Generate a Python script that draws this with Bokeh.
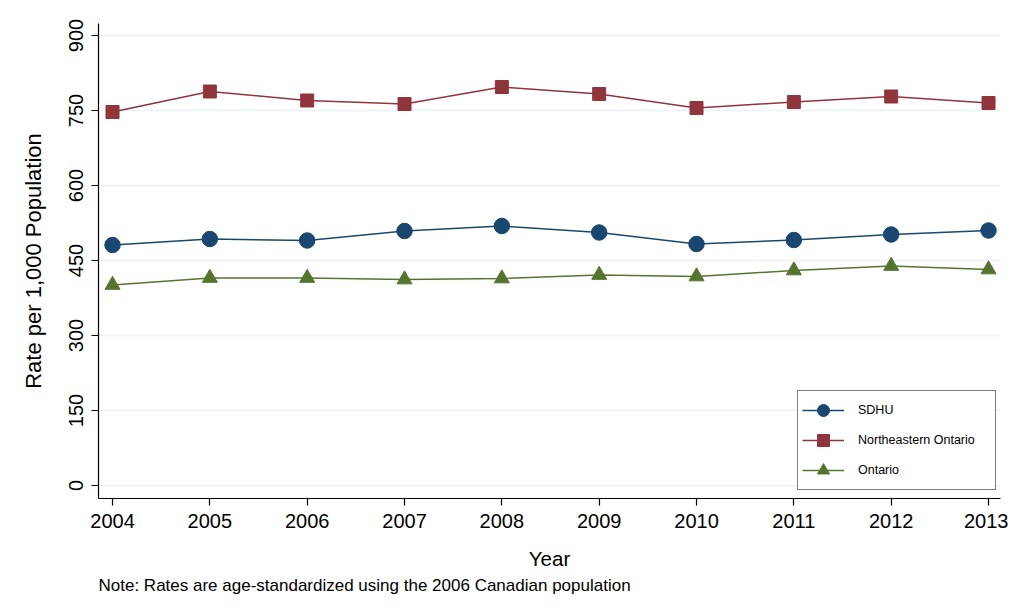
from bokeh.plotting import figure
from bokeh.models import FixedTicker, Range1d, Legend, LegendItem, Title
from bokeh.embed import file_html
from bokeh.resources import INLINE

years = [2004, 2005, 2006, 2007, 2008, 2009, 2010, 2011, 2012, 2013]
sdhu = [481, 493, 490, 509, 519, 506, 483, 491, 502, 510]
ne_ontario = [747, 788, 770, 763, 797, 783, 755, 767, 778, 765]
ontario = [401, 415, 415, 412, 414, 421, 418, 430, 439, 432]
y_ticks = [0, 150, 300, 450, 600, 750, 900]
series_names = ["SDHU", "Northeastern Ontario", "Ontario"]
note_text = "Note: Rates are age-standardized using the 2006 Canadian population"

FONT = "Liberation Sans"
C_SDHU = "#1a476f"
C_NEO = "#90353b"
C_ONT = "#55752f"

p = figure(width=1008, height=598,
           x_range=Range1d(2003.856, 2013.123), y_range=Range1d(-26, 924),
           output_backend="svg", toolbar_location=None,
           min_border_left=98, min_border_right=8, min_border_top=23, min_border_bottom=100)
p.outline_line_color = None
p.background_fill_color = "white"
p.border_fill_color = "white"

p.xgrid.visible = False
p.ygrid.grid_line_color = "#eaf2f3"
p.ygrid.grid_line_width = 1.5

p.xaxis.ticker = FixedTicker(ticks=years)
p.yaxis.ticker = FixedTicker(ticks=y_ticks)
p.xaxis.axis_label = "Year"
p.yaxis.axis_label = "Rate per 1,000 Population"
for ax in (p.xaxis, p.yaxis):
    ax.axis_line_color = "black"
    ax.axis_line_width = 1.2
    ax.major_tick_line_color = "black"
    ax.major_tick_line_width = 1.2
    ax.major_tick_out = 7
    ax.major_tick_in = 0
    ax.minor_tick_out = 0
    ax.minor_tick_in = 0
    ax.major_label_text_font = FONT
    ax.major_label_text_font_size = "20px"
    ax.major_label_text_color = "black"
    ax.axis_label_text_font = FONT
    ax.axis_label_text_font_style = "normal"
    ax.axis_label_text_color = "black"
p.xaxis.axis_label_text_font_size = "20.5px"
p.yaxis.axis_label_text_font_size = "22px"
p.yaxis.major_label_orientation = "vertical"
p.xaxis.major_label_standoff = 8
p.yaxis.major_label_standoff = 9
p.xaxis.axis_label_standoff = 16
p.yaxis.axis_label_standoff = 20

r1l = p.line(years, sdhu, line_color=C_SDHU, line_width=1.5)
r1s = p.scatter(years, sdhu, marker="circle", size=15.5, fill_color=C_SDHU, line_color=C_SDHU)
r2l = p.line(years, ne_ontario, line_color=C_NEO, line_width=1.5)
r2s = p.scatter(years, ne_ontario, marker="square", size=13, fill_color=C_NEO, line_color=C_NEO)
r3l = p.line(years, ontario, line_color=C_ONT, line_width=1.5)
r3s = p.scatter(years, ontario, marker="triangle", size=15, fill_color=C_ONT, line_color=C_ONT)

legend = Legend(items=[
    LegendItem(label=series_names[0], renderers=[r1l, r1s]),
    LegendItem(label=series_names[1], renderers=[r2l, r2s]),
    LegendItem(label=series_names[2], renderers=[r3l, r3s]),
], location=(699, 8))
legend.orientation = "vertical"
legend.glyph_width = 42
legend.glyph_height = 30
legend.label_height = 30
legend.spacing = 0
legend.padding = 4
legend.margin = 0
legend.label_standoff = 14
legend.label_width = 133
legend.label_text_font = FONT
legend.label_text_font_size = "12.5px"
legend.label_text_color = "black"
legend.border_line_color = "black"
legend.border_line_width = 1
legend.background_fill_color = "white"
legend.background_fill_alpha = 1
p.add_layout(legend, "center")

note = Title(text=note_text, align="left", text_font=FONT, text_font_size="17px",
             text_font_style="normal", text_color="black", standoff=3)
p.add_layout(note, "below")

open("out.html", "w").write(file_html(p, INLINE))
